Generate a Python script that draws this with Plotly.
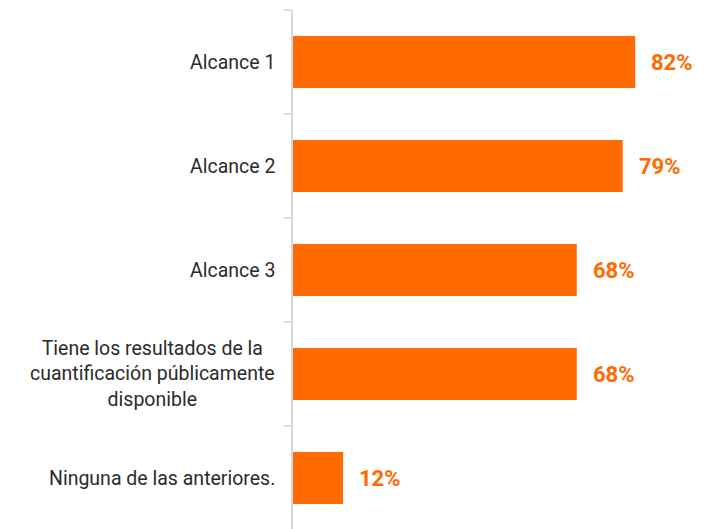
import plotly.graph_objects as go

categories = [
    "Alcance 1",
    "Alcance 2",
    "Alcance 3",
    "Tiene los resultados de la<br>cuantificación públicamente<br>disponible",
    "Ninguna de las anteriores.",
]
values = [82, 79, 68, 68, 12]
value_labels = ["82%", "79%", "68%", "68%", "12%"]

ORANGE = "#FF6B00"
GRID = "#D9D9D9"
TEXT = "#2B2B2B"
FONT = "Roboto"

# page has an 8px body margin; compensate so the plot lands where the reference has it
W, H = 698, 522
L, R, T, B = 285, 4, 2, 0

fig = go.Figure()
fig.add_trace(go.Bar(
    y=categories, x=values, orientation="h",
    marker=dict(color=ORANGE, line=dict(width=0)),
    hoverinfo="skip",
))

annotations = []
for c, v, lab in zip(categories, values, value_labels):
    annotations.append(dict(
        x=v, y=c, xref="x", yref="y", text="<b>" + lab + "</b>",
        showarrow=False, xanchor="left", yanchor="middle", xshift=14,
        font=dict(family=FONT, size=22, color=ORANGE),
    ))
    annotations.append(dict(
        x=0, y=c, xref="paper", yref="y", text=c,
        showarrow=False, xanchor="right", yanchor="middle", align="center",
        xshift=-16,
        font=dict(family=FONT, size=19.5, color=TEXT),
    ))

fig.update_layout(
    width=W, height=H,
    margin=dict(l=L, r=R, t=T, b=B, pad=0),
    paper_bgcolor="white", plot_bgcolor="white",
    showlegend=False,
    bargap=0.5,
    annotations=annotations,
    xaxis=dict(range=[0, 98], visible=False, fixedrange=True),
    yaxis=dict(
        type="category", autorange="reversed",
        showticklabels=False,
        showline=True, linecolor=GRID, linewidth=2,
        ticks="outside", tickson="boundaries", ticklen=7,
        tickcolor=GRID, tickwidth=2,
        showgrid=False, zeroline=False,
    ),
)

fig.write_html("out.html")
